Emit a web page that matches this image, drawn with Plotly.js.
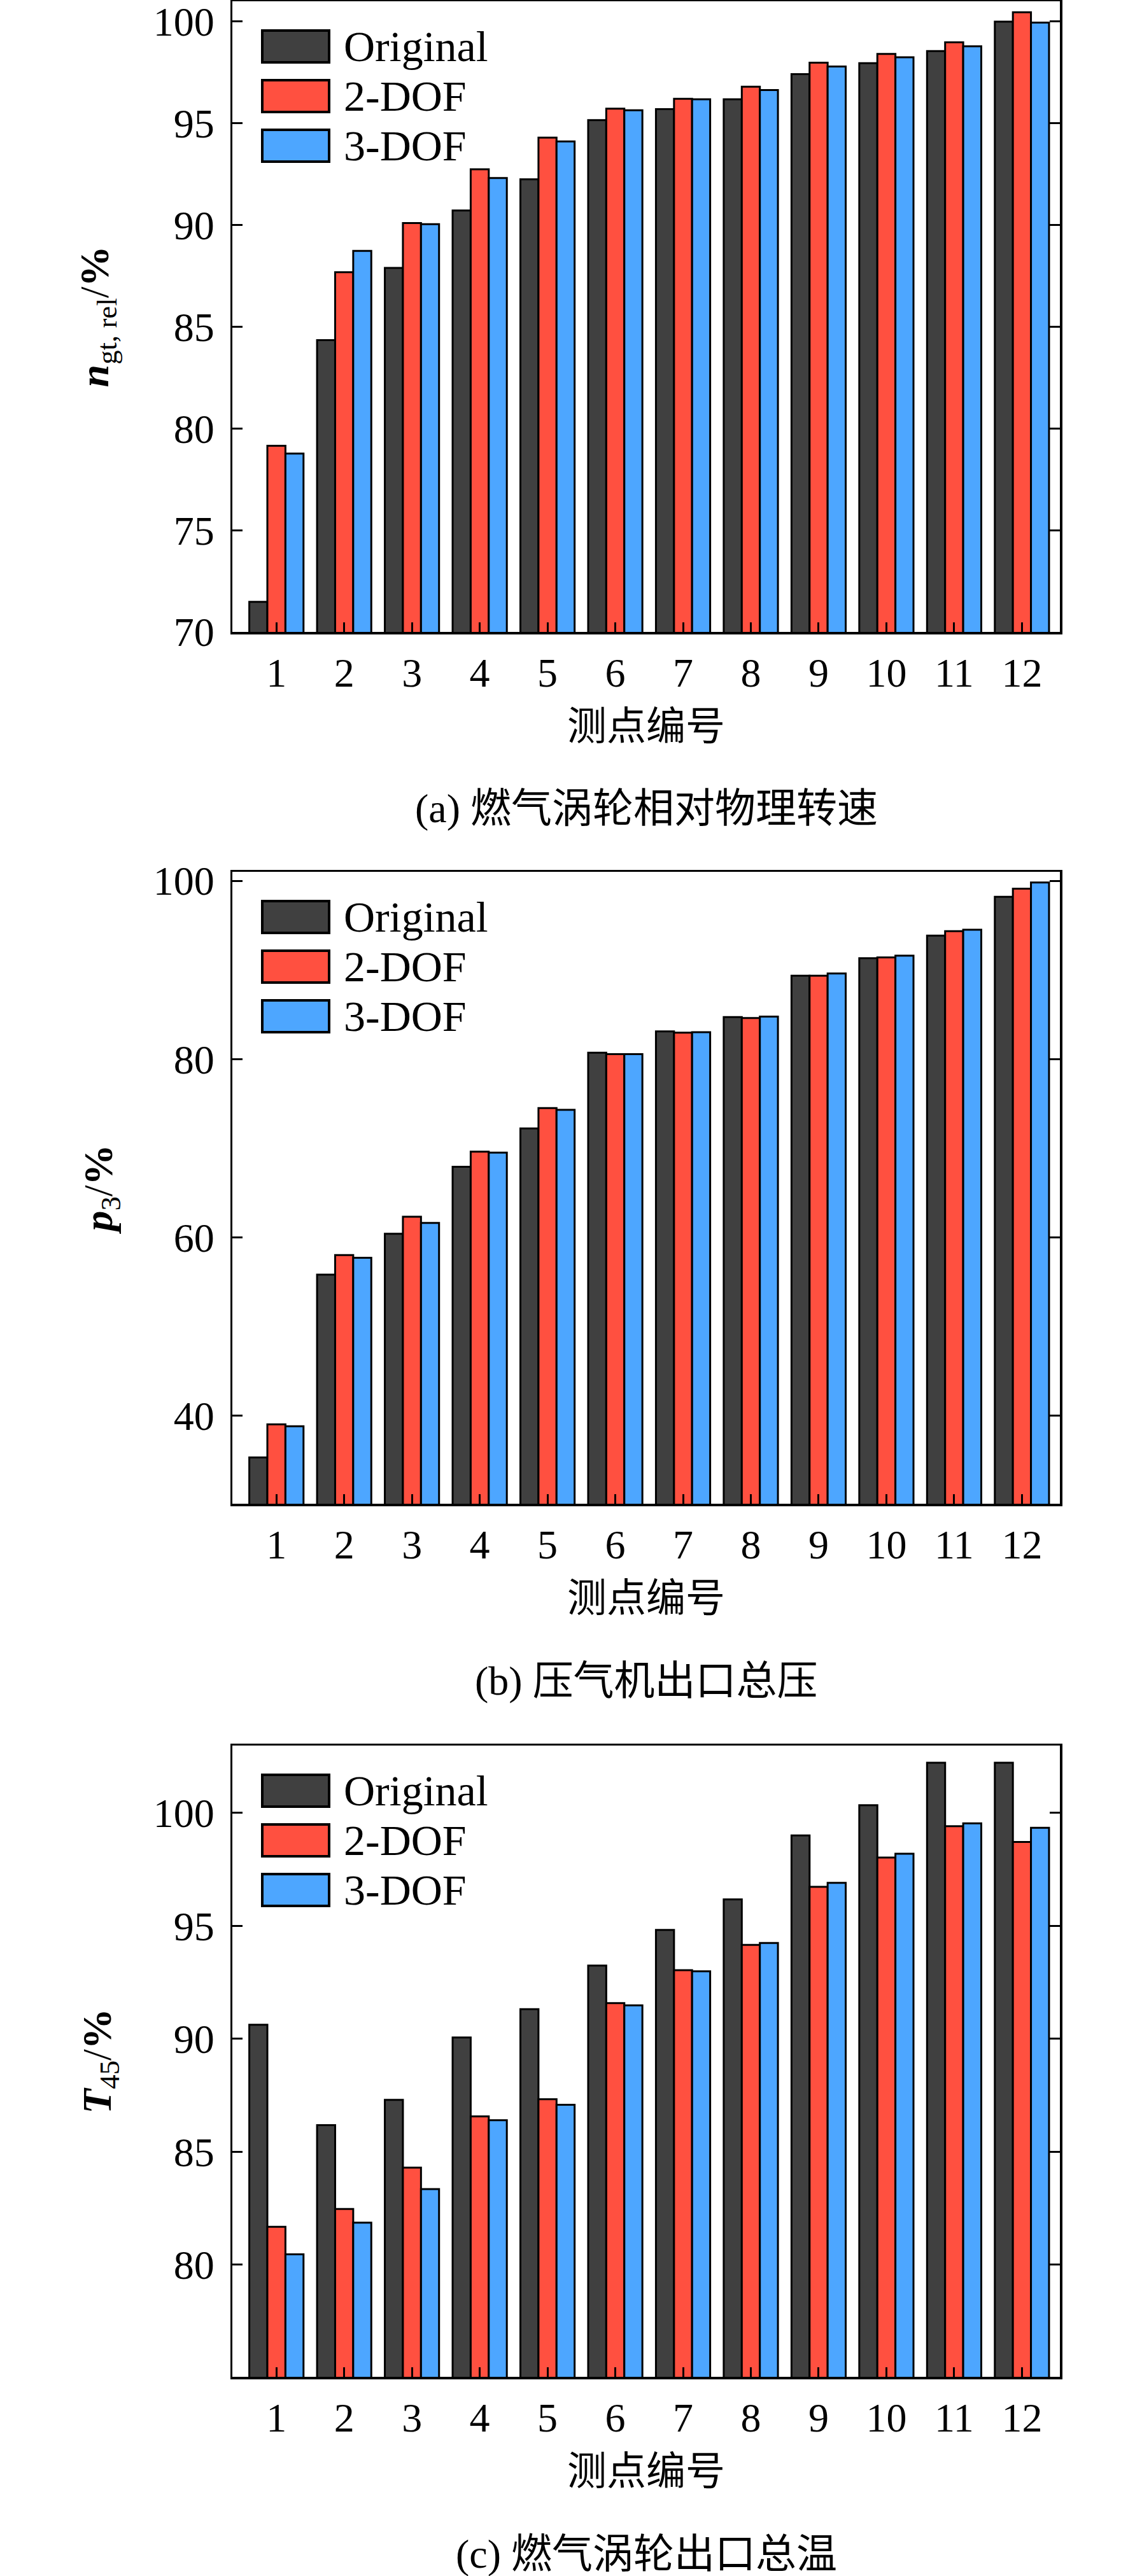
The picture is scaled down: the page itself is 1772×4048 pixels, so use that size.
<!DOCTYPE html>
<html>
<head>
<meta charset="utf-8">
<script src="https://cdn.plot.ly/plotly-3.0.1.min.js"></script>
<style>html,body{margin:0;padding:0;background:#fff;}</style>
</head>
<body>
<div id="chart" style="width:1772px;height:4048px;"></div>
<script>
// ---------- data ----------
const categories = [1, 2, 3, 4, 5, 6, 7, 8, 9, 10, 11, 12];
const seriesNames = ['Original', '2-DOF', '3-DOF'];
const seriesColors = ['#404040', '#FF5040', '#4DA6FF'];

// (a) relative physical speed of gas turbine
const nOriginal = [71.48, 84.34, 87.89, 90.72, 92.25, 95.16, 95.70, 96.18, 97.42, 97.96, 98.55, 100.00];
const n2DOF     = [79.15, 87.68, 90.10, 92.74, 94.30, 95.72, 96.21, 96.80, 97.98, 98.41, 98.98, 100.46];
const n3DOF     = [78.77, 88.73, 90.04, 92.31, 94.11, 95.64, 96.18, 96.64, 97.79, 98.25, 98.79, 99.95];

// (b) compressor outlet total pressure
const pOriginal = [35.3, 55.8, 60.4, 67.9, 72.2, 80.7, 83.1, 84.7, 89.35, 91.3, 93.85, 98.2];
const p2DOF     = [39.0, 58.0, 62.3, 69.6, 74.5, 80.55, 82.95, 84.6, 89.35, 91.4, 94.35, 99.1];
const p3DOF     = [38.8, 57.7, 61.6, 69.5, 74.3, 80.55, 83.0, 84.75, 89.6, 91.6, 94.5, 99.8];

// (c) gas turbine outlet total temperature
const tOriginal = [90.62, 86.18, 87.30, 90.06, 91.31, 93.24, 94.82, 96.17, 99.00, 100.34, 102.22, 102.22];
const t2DOF     = [81.68, 82.47, 84.30, 86.57, 87.33, 91.58, 93.04, 94.16, 96.73, 98.02, 99.41, 98.71];
const t3DOF     = [80.46, 81.86, 83.35, 86.40, 87.08, 91.48, 92.99, 94.24, 96.90, 98.19, 99.54, 99.34];

const topTickValues = [2, 4, 6, 8, 10, 12];

const BI = 'font-weight:bold;font-style:italic';
const yTitles = [
  '<span style="' + BI + '">n</span><sub>gt, rel</sub>/<b>%</b>',
  '<span style="' + BI + '">p</span><sub>3</sub>/<b>%</b>',
  '<span style="' + BI + '">T</span><sub>45</sub>/<b>%</b>'
];
const xTitle = '测点编号';
const captions = ['(a) 燃气涡轮相对物理转速', '(b) 压气机出口总压', '(c) 燃气涡轮出口总温'];

const yRanges = [[70, 101.0], [30.1, 101.0], [75.04, 102.98]];
const yDticks = [5, 20, 5];

const panels = [
  [nOriginal, n2DOF, n3DOF],
  [pOriginal, p2DOF, p3DOF],
  [tOriginal, t2DOF, t3DOF]
];

// ---------- layout geometry (pixels) ----------
const W = 1772, H = 4048;
const plotLeft = 365, plotRight = 1665;
const panelTops = [2, 1370, 2743];
const panelBottoms = [993, 2363, 3735];
const yTitleStandoff = [50, 44, 46];

const FONT = 'Liberation Serif, Times New Roman, serif';
const CJK = 'Liberation Serif, Noto Sans CJK SC, sans-serif';

const traces = [];
const layout = {
  width: W, height: H,
  margin: {l: 0, r: 0, t: 0, b: 0},
  paper_bgcolor: '#ffffff', plot_bgcolor: '#ffffff',
  barmode: 'group', bargap: 0.2, bargroupgap: 0,
  showlegend: false,
  font: {family: FONT, color: '#000', size: 64},
  annotations: [], shapes: []
};

const xDomain = [plotLeft / W, plotRight / W];
const xRange = [0.35, 12.56];

panels.forEach((series, p) => {
  const sx = p === 0 ? '' : String(p + 1);
  const xa = 'x' + sx, ya = 'y' + sx;
  series.forEach((vals, s) => {
    traces.push({
      type: 'bar', x: categories, y: vals, name: seriesNames[s],
      xaxis: xa, yaxis: ya,
      marker: {color: seriesColors[s], line: {color: '#000', width: 3}},
      hoverinfo: 'skip'
    });
  });
  const dom = [1 - panelBottoms[p] / H, 1 - panelTops[p] / H];
  layout['xaxis' + sx] = {
    domain: xDomain, anchor: ya, range: xRange,
    tickmode: 'array', tickvals: categories, ticktext: categories.map(String),
    ticks: 'inside', ticklen: 15, tickwidth: 3, tickcolor: '#000',
    showline: true, linewidth: 3.5, linecolor: '#000', mirror: true,
    showgrid: false, zeroline: false,
    tickfont: {family: FONT, size: 64, color: '#000'},
    ticklabelstandoff: 6, ticklabeloverflow: 'allow',
    title: {text: xTitle, standoff: 28, font: {family: CJK, size: 62, color: '#000'}}
  };
  // top axis with ticks only at even stations
  layout['xaxis' + (p + 4)] = {
    overlaying: xa, anchor: ya, side: 'top', range: xRange,
    tickmode: 'array', tickvals: topTickValues,
    ticks: 'inside', ticklen: 15, tickwidth: 3, tickcolor: '#000',
    showticklabels: false, showline: false, showgrid: false, zeroline: false
  };
  layout['yaxis' + sx] = {
    domain: dom, anchor: xa, range: yRanges[p], dtick: yDticks[p], tick0: 0,
    ticks: 'inside', ticklen: 16, tickwidth: 3, tickcolor: '#000',
    showline: true, linewidth: 3.5, linecolor: '#000', mirror: 'ticks',
    showgrid: false, zeroline: false,
    tickfont: {family: FONT, size: 64, color: '#000'},
    ticklabelstandoff: 12, ticklabeloverflow: 'allow',
    title: {text: yTitles[p], standoff: yTitleStandoff[p], font: {family: FONT, size: 64, color: '#000'}}
  };
  const cx = (xDomain[0] + xDomain[1]) / 2;
  layout.annotations.push({
    xref: 'paper', yref: 'paper', x: cx, y: 1 - (panelBottoms[p] + 278) / H,
    xanchor: 'center', yanchor: 'middle', showarrow: false,
    text: captions[p], font: {family: CJK, size: 64, color: '#000'}
  });
  // legend (swatch + label) inside the upper-left corner of each panel
  const ph = panelBottoms[p] - panelTops[p];
  const pw = plotRight - plotLeft;
  seriesNames.forEach((nm, s) => {
    const top = 46 + s * 78, bot = top + 50;
    layout.shapes.push({
      type: 'rect', xref: xa + ' domain', yref: ya + ' domain',
      x0: (412 - plotLeft) / pw, x1: (517 - plotLeft) / pw,
      y0: 1 - bot / ph, y1: 1 - top / ph,
      fillcolor: seriesColors[s], line: {color: '#000', width: 4}
    });
    layout.annotations.push({
      xref: xa + ' domain', yref: ya + ' domain',
      x: (538 - plotLeft) / pw, y: 1 - (top + 25) / ph,
      xanchor: 'left', yanchor: 'middle', showarrow: false,
      text: nm, font: {family: FONT, size: 68, color: '#000'}
    });
  });
});

Plotly.newPlot('chart', traces, layout, {staticPlot: true, displayModeBar: false});
</script>
</body>
</html>
